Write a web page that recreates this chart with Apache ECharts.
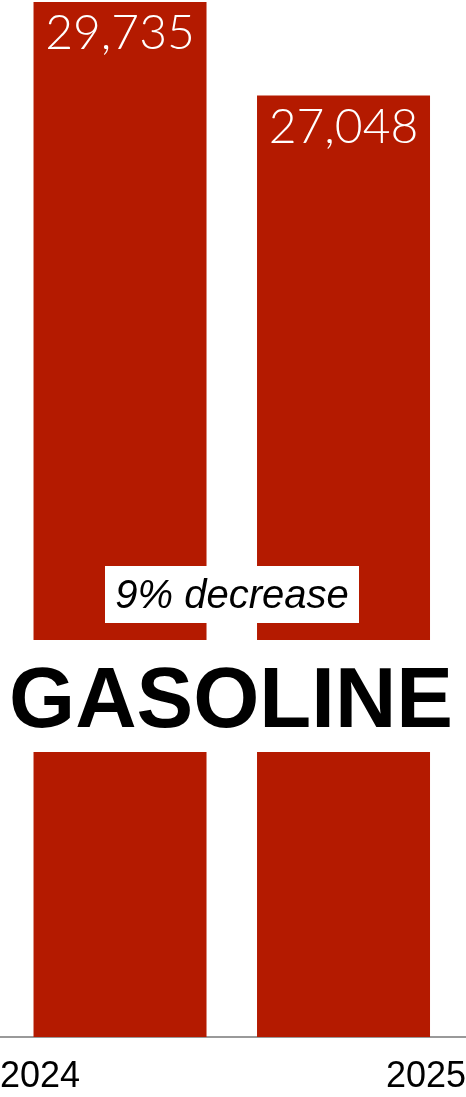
<!DOCTYPE html>
<html><head><meta charset="utf-8">
<script src="https://cdn.jsdelivr.net/npm/echarts@6/dist/echarts.min.js"></script>
<style>html,body{margin:0;padding:0;background:#fff}#c{width:466px;height:1097px}</style>
</head><body><div id="c"></div>
<script>
const years = ['2024', '2025'];
const values = [29735, 27048];
const title = 'GASOLINE';

const pct = Math.round((1 - values[1] / values[0]) * 100);
const XMIN = -0.537, XMAX = 1.548;
const chart = echarts.init(document.getElementById('c'));
chart.setOption({
  animation: false,
  grid: { left: 0, right: 0, top: 2, bottom: 60, containLabel: false, outerBoundsMode: 'none' },
  xAxis: {
    type: 'value', min: XMIN, max: XMAX,
    splitLine: { show: false },
    axisLine: { show: true, lineStyle: { color: '#777', width: 1.5 } },
    axisTick: { show: false },
    axisLabel: {
      customValues: [XMIN, XMAX],
      formatter: v => (v < 0.5 ? years[0] : years[1]),
      alignMinLabel: 'left', alignMaxLabel: 'right',
      fontFamily: 'Liberation Sans, Arial, sans-serif', fontSize: 36, color: '#000', margin: 22
    }
  },
  yAxis: { type: 'value', min: 0, max: 'dataMax', show: false, splitLine: { show: false } },
  series: [{
    type: 'bar',
    data: values.map((v, i) => [i, v]),
    barWidth: 173,
    itemStyle: { color: '#b41a00' },
    label: {
      show: true, position: 'insideTop', distance: 8,
      formatter: p => p.value[1].toLocaleString('en-US'),
      color: '#fff', fontSize: 48, fontFamily: 'Lato, Open Sans, sans-serif', fontWeight: 300
    }
  }],
  graphic: [
    { type: 'rect', z: 100, shape: { x: 0, y: 640, width: 466, height: 112 }, style: { fill: '#fff' } },
    { type: 'text', z: 101, x: 231, y: 704, style: { text: title, fill: '#000', font: 'bold 85px "Liberation Sans", Arial, sans-serif', textAlign: 'center', textVerticalAlign: 'middle' } },
    { type: 'rect', z: 100, shape: { x: 105, y: 566, width: 254, height: 57 }, style: { fill: '#fff' } },
    { type: 'text', z: 101, x: 232, y: 597, style: { text: pct + '% decrease', fill: '#000', font: 'italic 40px "Liberation Sans", Arial, sans-serif', textAlign: 'center', textVerticalAlign: 'middle' } }
  ]
});
</script></body></html>
